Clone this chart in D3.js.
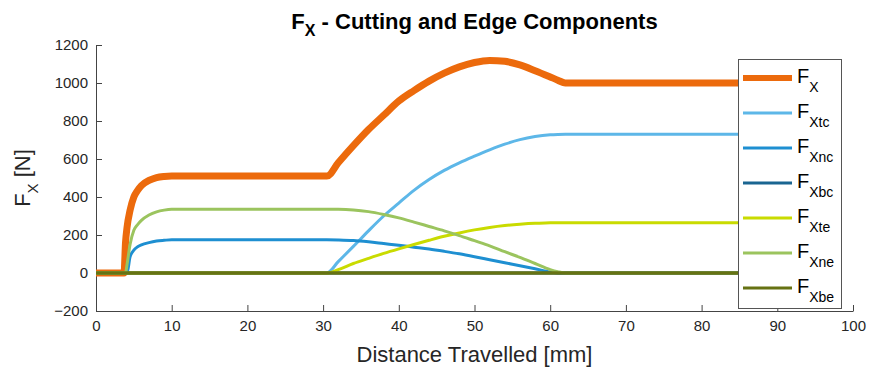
<!DOCTYPE html>
<html><head><meta charset="utf-8">
<script src="https://cdn.jsdelivr.net/npm/d3@7"></script>
<style>
html,body{margin:0;padding:0;background:#fff;}
text{font-family:"Liberation Sans",Arial,Helvetica,sans-serif;}
</style></head>
<body>
<svg id="chart" width="871" height="372"></svg>
<script>
const dist = [0, 3.7, 3.9, 4.1, 4.5, 5, 5.5, 6, 7, 8, 9, 10, 20, 30, 30.5, 32, 34, 36, 38, 40, 42, 44, 46, 48, 50, 52, 54, 56, 58, 60, 61, 62, 70, 80, 90];
const fx   = [0,0,160,240,330, 400,435,460,487,502, 508,510,510,510,510, 580,670,755,830,905, 960,1010,1052,1085,1108, 1119,1114,1095,1065,1032, 1015,1000,1000,1000,1000];
const fxtc = [0,0,0,0,0, 0,0,0,0,0, 0,0,0,0,0, 60,140,222,300,368, 435,492,540,580,615, 648,678,702,718,727, 729,730,730,730,730];
const fxnc = [0,0,0,0,85, 120,138,148,160,168, 172,175,175,175,175, 174,171,164,155,146, 136,126,114,101,86, 70,54,38,22,6, 0,0,0,0,0];
const fxbc = [0,0,0,0,0, 0,0,0,0,0, 0,0,0,0,0, 0,0,0,0,0, 0,0,0,0,0, 0,0,0,0,0, 0,0,0,0,0];
const fxte = [0,0,0,0,0, 0,0,0,0,0, 0,0,0,0,0, 18,50,77,103,127, 150,172,193,211,227, 240,250,257,262,264, 265,265,265,265,265];
const fxne = [0,0,0,45,150, 225,255,277,305,322, 331,335,335,335,335, 335,332,323,308,290, 268,245,222,197,170, 143,112,82,50,18, 7,0,0,0,0];
const fxbe = [0,0,0,0,0, 0,0,0,0,0, 0,0,0,0,0, 0,0,0,0,0, 0,0,0,0,0, 0,0,0,0,0, 0,0,0,0,0];

const seriesNames = ["X", "Xtc", "Xnc", "Xbc", "Xte", "Xne", "Xbe"];
const seriesValues = [fx, fxtc, fxnc, fxbc, fxte, fxne, fxbe];
const seriesColors = ["#EC6A0C", "#5DB7E8", "#1E8FD1", "#1A6591", "#C9DB00", "#9BC45E", "#667213"];
const seriesWidths = [7, 3, 3, 3, 3, 3, 3.5];
const legendWidths = [6, 3, 3, 3, 3, 3, 3];
const xTicks = [0,10,20,30,40,50,60,70,80,90,100];
const yTicks = [-200,0,200,400,600,800,1000,1200];

const svg = d3.select("#chart");
svg.append("rect").attr("width",871).attr("height",372).attr("fill","#fff");

const x = d3.scaleLinear().domain([0,100]).range([96,853]);
const y = d3.scaleLinear().domain([-200,1200]).range([311,45]);

// axes
const gx = svg.append("g").attr("transform","translate(0,311)")
  .call(d3.axisBottom(x).tickValues(xTicks).tickFormat(d3.format("d")).tickSizeInner(-6).tickSizeOuter(0).tickPadding(9));
const gy = svg.append("g").attr("transform","translate(96,0)")
  .call(d3.axisLeft(y).tickValues(yTicks).tickFormat(d3.format("d")).tickSizeInner(-6).tickSizeOuter(0).tickPadding(8));
[gx,gy].forEach(g=>{
  g.selectAll("path,line").attr("stroke","#444");
  g.selectAll("text").attr("fill","#262626").style("font-size","15px")
   .style("font-family",'"Liberation Sans",Arial,sans-serif');
});

// lines
const line = d3.line().x((d,i)=>x(dist[i])).y(d=>y(d)).curve(d3.curveMonotoneX);
seriesValues.forEach((vals,k)=>{
  svg.append("path").datum(vals)
    .attr("d", line)
    .attr("fill","none")
    .attr("stroke", seriesColors[k])
    .attr("stroke-width", seriesWidths[k])
    .attr("stroke-linejoin","round");
});

// title
const title = svg.append("text").attr("x",474.5).attr("y",29)
  .attr("text-anchor","middle").attr("font-weight","bold").attr("font-size","22px").attr("fill","#000");
title.append("tspan").text("F");
title.append("tspan").attr("dy",7).attr("font-size","16px").text("X");
title.append("tspan").attr("dy",-7).text(" - Cutting and Edge Components");

// x label
svg.append("text").attr("x",474.5).attr("y",362).attr("text-anchor","middle")
  .attr("font-size","22px").attr("fill","#262626").text("Distance Travelled [mm]");

// y label
const yl = svg.append("text").attr("transform","translate(30,178) rotate(-90)")
  .attr("text-anchor","middle").attr("font-size","22px").attr("fill","#262626");
yl.append("tspan").text("F");
yl.append("tspan").attr("dy",8).attr("font-size","15px").text("X");
yl.append("tspan").attr("dy",-8).text(" [N]");

// legend
const lg = svg.append("g");
lg.append("rect").attr("x",738.5).attr("y",59.5).attr("width",103).attr("height",249)
  .attr("fill","#fff").attr("stroke","#555").attr("stroke-width",1);
seriesNames.forEach((nm,k)=>{
  const ly = 78 + k*35;
  lg.append("line").attr("x1",743).attr("x2",792).attr("y1",ly).attr("y2",ly)
    .attr("stroke",seriesColors[k]).attr("stroke-width",legendWidths[k]);
  const t = lg.append("text").attr("x",797).attr("y",ly+5).attr("font-size","20px").attr("fill","#000");
  t.append("tspan").text("F");
  t.append("tspan").attr("dy",9).attr("font-size","14px").text(nm);
});
</script>
</body></html>
